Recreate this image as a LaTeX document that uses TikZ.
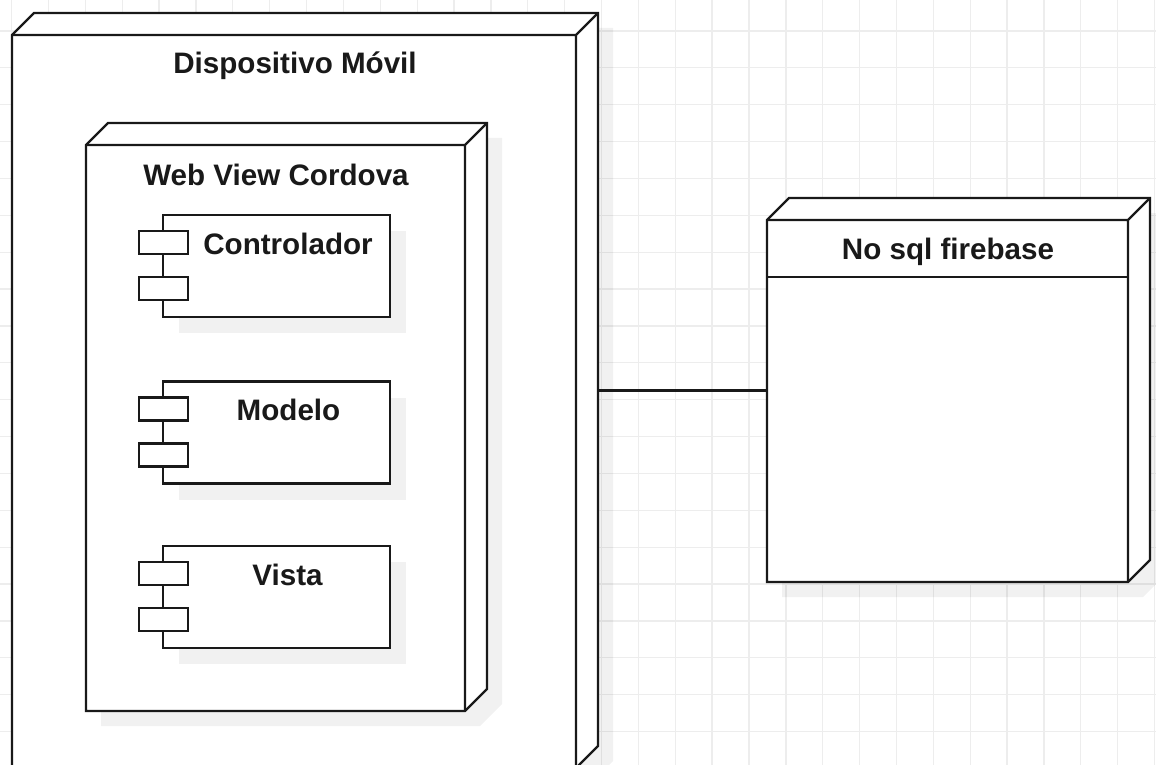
\documentclass[tikz,border=0pt]{standalone}
\usepackage{fontspec}
\setmainfont{Liberation Sans}
\usetikzlibrary{fit,calc}
\definecolor{gridc}{RGB}{237,237,237}
\definecolor{edgec}{RGB}{25,25,25}
\definecolor{txtc}{RGB}{25,25,25}
\tikzset{
  edge/.style={draw=edgec, line width=2.2pt, line join=miter},
  shadowfill/.style={fill=black, fill opacity=0.055},
  gridline/.style={draw=gridc, line width=1.3pt},
  lbl/.style={text=txtc, anchor=base, inner sep=0pt, font=\fontsize{29.6}{35}\selectfont\bfseries},
  box/.style={inner sep=0pt, outer sep=0pt}
}
% 3D UML node: name, x1, y1, x2, y2 (front face)
\newcommand\cubebox[5]{%
  \fill[shadowfill] ({#2+15},{#3+15}) -- ({#2+37},{#3-7}) -- ({#4+37},{#3-7}) -- ({#4+37},{#5-7}) -- ({#4+15},{#5+15}) -- ({#2+15},{#5+15}) -- cycle;
  \draw[edge, fill=white] (#2,#3) -- ({#2+22},{#3-22}) -- ({#4+22},{#3-22}) -- ({#4+22},{#5-22}) -- (#4,#5) -- (#2,#5) -- cycle;
  \draw[edge] (#2,#3) -- (#4,#3) -- (#4,#5) (#4,#3) -- ({#4+22},{#3-22});
  \node[box, fit={(#2,{#3-22}) ({#4+22},#5)}] (#1) {};
}
% UML component: name, x1, top, x2
\newcommand\compbox[4]{%
  \fill[shadowfill] ({#2+16},{#3+16}) rectangle ({#4+16},{#3+118});
  \draw[edge, fill=white] (#2,#3) rectangle (#4,{#3+102});
  \draw[edge, fill=white] ({#2-24},{#3+16}) rectangle ({#2+25},{#3+39});
  \draw[edge, fill=white] ({#2-24},{#3+62}) rectangle ({#2+25},{#3+85});
  \node[box, fit={(#2,#3) (#4,{#3+102})}] (#1) {};
}
\begin{document}
\begin{tikzpicture}[x=1pt, y=-1pt]
\useasboundingbox (0,0) rectangle (1156,765);
\clip (0,0) rectangle (1156,765);
\fill[white] (0,0) rectangle (1156,765);
% grid
\foreach \k in {0,...,31} {\draw[gridline] ({11.6+36.87*\k},0) -- ({11.6+36.87*\k},765);}
\foreach \k in {1,...,21} {\draw[gridline] (0,{-5.9+36.87*\k}) -- (1156,{-5.9+36.87*\k});}
% shapes
\cubebox{outer}{12}{35}{576}{768}
\cubebox{webview}{86}{145}{465}{711}
\compbox{ctrl}{163}{215}{390}
\compbox{modelo}{163}{381.5}{390}
\compbox{vista}{163}{546}{390}
\cubebox{nosql}{767}{220}{1128}{582}
\draw[edge] (767,277) -- (1128,277);
% connector
\draw[edge] (outer.east) -- (outer.east -| nosql.west);
% labels
\node[lbl] (tdev) at (295,74) {Dispositivo Móvil};
\node[lbl] (tweb) at (276,185) {Web View Cordova};
\node[lbl] (tctrl) at (288,254) {Controlador};
\node[lbl] (tmod) at (288.5,420) {Modelo};
\node[lbl] (tvis) at (287.5,585) {Vista};
\node[lbl] (tdb) at (948,259) {No sql firebase};
\end{tikzpicture}
\end{document}
